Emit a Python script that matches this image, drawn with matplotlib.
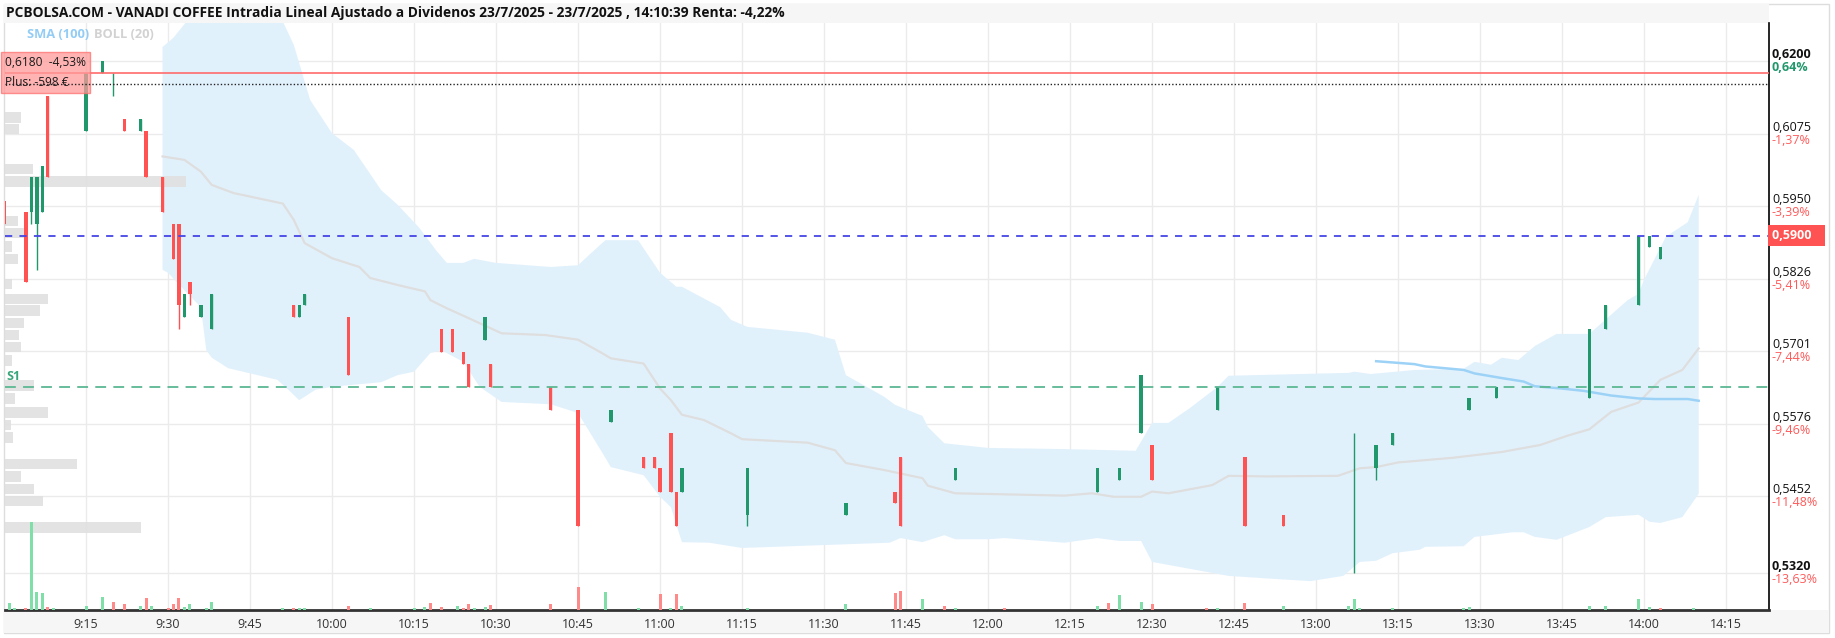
import numpy as np
import matplotlib.pyplot as plt
import matplotlib.transforms as mtransforms
from matplotlib.patches import Rectangle

plt.rcParams['font.family'] = ['Open Sans', 'DejaVu Sans']


def to_min(hhmm):
    # minutes since 9:00
    h, m = hhmm.split(":")
    return (int(h) - 9) * 60 + int(m)


# 1-minute candles
candle_time = ["09:00", "09:04", "09:05", "09:06", "09:07", "09:08", "09:15", "09:18", "09:20", "09:22",
               "09:25", "09:26", "09:29", "09:31", "09:32", "09:33", "09:34", "09:36", "09:38", "09:53",
               "09:54", "09:55", "10:03", "10:20", "10:22", "10:24", "10:25", "10:28", "10:29", "10:40",
               "10:45", "10:51", "10:57", "10:59", "11:00", "11:02", "11:03", "11:04", "11:16", "11:34",
               "11:43", "11:44", "11:54", "12:20", "12:24", "12:28", "12:30", "12:42", "12:47", "12:54",
               "13:07", "13:11", "13:14", "13:28", "13:33", "13:50", "13:53", "13:59", "14:01", "14:03"]
candle_open = [0.5960, 0.5940, 0.5940, 0.5920, 0.5940, 0.6140, 0.6080, 0.6180, 0.6160, 0.6100,
               0.6080, 0.6080, 0.6000, 0.5920, 0.5920, 0.5760, 0.5820, 0.5760, 0.5740, 0.5780,
               0.5760, 0.5780, 0.5760, 0.5740, 0.5740, 0.5700, 0.5680, 0.5720, 0.5680, 0.5640,
               0.5600, 0.5580, 0.5520, 0.5520, 0.5500, 0.5560, 0.5460, 0.5460, 0.5420, 0.5420,
               0.5460, 0.5520, 0.5480, 0.5460, 0.5480, 0.5560, 0.5540, 0.5600, 0.5520, 0.5420,
               0.5440, 0.5500, 0.5540, 0.5600, 0.5620, 0.5620, 0.5740, 0.5780, 0.5880, 0.5860]
candle_high = [0.5960, 0.5940, 0.6000, 0.6000, 0.6020, 0.6140, 0.6180, 0.6200, 0.6180, 0.6100,
               0.6100, 0.6080, 0.6000, 0.5920, 0.5920, 0.5800, 0.5820, 0.5780, 0.5800, 0.5780,
               0.5780, 0.5800, 0.5760, 0.5740, 0.5740, 0.5700, 0.5680, 0.5760, 0.5680, 0.5640,
               0.5600, 0.5600, 0.5520, 0.5520, 0.5500, 0.5560, 0.5460, 0.5500, 0.5500, 0.5440,
               0.5460, 0.5520, 0.5500, 0.5500, 0.5500, 0.5660, 0.5540, 0.5640, 0.5520, 0.5420,
               0.5560, 0.5540, 0.5560, 0.5620, 0.5640, 0.5740, 0.5780, 0.5900, 0.5900, 0.5880]
candle_low = [0.5920, 0.5820, 0.5920, 0.5840, 0.5940, 0.6000, 0.6080, 0.6180, 0.6140, 0.6080,
              0.6080, 0.6000, 0.5940, 0.5860, 0.5740, 0.5760, 0.5780, 0.5760, 0.5740, 0.5760,
              0.5760, 0.5780, 0.5660, 0.5700, 0.5700, 0.5680, 0.5640, 0.5720, 0.5640, 0.5600,
              0.5400, 0.5580, 0.5500, 0.5500, 0.5460, 0.5460, 0.5400, 0.5460, 0.5400, 0.5420,
              0.5440, 0.5400, 0.5480, 0.5460, 0.5480, 0.5560, 0.5480, 0.5600, 0.5400, 0.5400,
              0.5320, 0.5480, 0.5540, 0.5600, 0.5620, 0.5620, 0.5740, 0.5780, 0.5880, 0.5860]
candle_close = [0.5920, 0.5820, 0.6000, 0.6000, 0.6020, 0.6000, 0.6180, 0.6200, 0.6160, 0.6080,
                0.6100, 0.6000, 0.5940, 0.5860, 0.5780, 0.5800, 0.5800, 0.5780, 0.5800, 0.5760,
                0.5780, 0.5800, 0.5660, 0.5700, 0.5700, 0.5680, 0.5640, 0.5760, 0.5640, 0.5600,
                0.5400, 0.5600, 0.5500, 0.5500, 0.5460, 0.5460, 0.5400, 0.5500, 0.5500, 0.5440,
                0.5440, 0.5400, 0.5500, 0.5500, 0.5500, 0.5660, 0.5480, 0.5640, 0.5400, 0.5400,
                0.5440, 0.5540, 0.5560, 0.5620, 0.5640, 0.5740, 0.5780, 0.5900, 0.5900, 0.5880]

# volume per minute (shares) and direction (1 up, 0 down)
vol_time = ["09:01", "09:02", "09:04", "09:05", "09:06", "09:07", "09:08", "09:09", "09:15", "09:18",
            "09:20", "09:22", "09:25", "09:26", "09:27", "09:30", "09:31", "09:32", "09:33", "09:34",
            "09:37", "09:38", "09:51", "09:53", "09:54", "09:55", "10:03", "10:07", "10:15", "10:17",
            "10:18", "10:20", "10:23", "10:24", "10:25", "10:26", "10:28", "10:29", "10:40", "10:45",
            "10:50", "10:56", "11:00", "11:02", "11:03", "11:04", "11:16", "11:34", "11:43", "11:44",
            "11:48", "11:52", "11:54", "12:03", "12:20", "12:22", "12:24", "12:28", "12:30", "12:40",
            "12:42", "12:47", "12:54", "13:06", "13:07", "13:08", "13:14", "13:27", "13:28", "13:50",
            "13:53", "13:59", "14:01", "14:03", "14:09"]
vol_value = [670, 230, 230, 8830, 1830, 1670, 330, 230, 430, 1330,
             830, 570, 430, 1230, 430, 230, 570, 1230, 330, 570,
             230, 830, 170, 200, 200, 200, 430, 170, 200, 330,
             700, 330, 430, 230, 600, 200, 330, 470, 570, 2330,
             1830, 200, 1570, 200, 1570, 430, 200, 570, 1670, 1930,
             1070, 430, 200, 230, 430, 670, 1500, 830, 570, 200,
             230, 670, 430, 400, 1070, 200, 200, 200, 330, 430,
             430, 1070, 330, 200, 200]
vol_up = [1, 1, 0, 1, 1, 1, 0, 1, 1, 1,
          0, 0, 1, 0, 1, 0, 0, 0, 1, 1,
          1, 1, 1, 0, 1, 1, 0, 1, 1, 1,
          0, 0, 1, 0, 0, 1, 1, 0, 0, 0,
          1, 1, 0, 1, 0, 1, 1, 1, 0, 0,
          1, 0, 1, 0, 1, 0, 1, 1, 0, 0,
          1, 0, 1, 1, 1, 1, 1, 1, 1, 1,
          1, 1, 1, 0, 1]

# volume at price profile
profile_price = [0.6103, 0.6083, 0.6014, 0.5993, 0.5925, 0.5904, 0.5881, 0.5860, 0.5817, 0.5791,
                 0.5771, 0.5750, 0.5729, 0.5708, 0.5685, 0.5642, 0.5620, 0.5596, 0.5574, 0.5553,
                 0.5507, 0.5486, 0.5464, 0.5444, 0.5398]
profile_volume = [1600, 1400, 2770, 18100, 1330, 2300, 700, 1270, 730, 4270,
                  3500, 1900, 1400, 1600, 730, 2930, 1000, 4330, 600, 800,
                  7170, 1600, 2900, 3830, 13600]

# BOLL (20)
boll_up_time = ["09:29", "09:31", "09:34", "09:40", "09:46", "09:51", "09:53", "09:56", "10:00", "10:04",
                "10:09", "10:12", "10:16", "10:19", "10:21", "10:24", "10:26", "10:30", "10:40", "10:45",
                "10:48", "10:50", "10:56", "11:00", "11:03", "11:04", "11:11", "11:13", "11:16", "11:27",
                "11:32", "11:34", "11:41", "11:43", "11:48", "11:49", "11:52", "12:00", "12:14", "12:23",
                "12:27", "12:30", "12:33", "12:37", "12:42", "12:44", "12:57", "13:06", "13:07", "13:10",
                "13:18", "13:27", "13:29", "13:32", "13:34", "13:37", "13:40", "13:44", "13:50", "13:57",
                "13:59", "14:00", "14:04", "14:08", "14:10"]
boll_up = [0.6224, 0.6240, 0.6275, 0.6290, 0.6290, 0.6268, 0.6228, 0.6133, 0.6076, 0.6047,
           0.5978, 0.5953, 0.5913, 0.5875, 0.5853, 0.5853, 0.5860, 0.5853, 0.5846, 0.5849,
           0.5875, 0.5892, 0.5892, 0.5836, 0.5812, 0.5812, 0.5777, 0.5755, 0.5743, 0.5733,
           0.5721, 0.5660, 0.5623, 0.5609, 0.5590, 0.5571, 0.5543, 0.5535, 0.5533, 0.5531,
           0.5530, 0.5578, 0.5578, 0.5604, 0.5640, 0.5659, 0.5662, 0.5664, 0.5666, 0.5662,
           0.5669, 0.5671, 0.5683, 0.5678, 0.5690, 0.5686, 0.5710, 0.5731, 0.5731, 0.5789,
           0.5800, 0.5824, 0.5898, 0.5923, 0.5970]
boll_low_time = ["09:29", "09:30", "09:33", "09:36", "09:37", "09:38", "09:41", "09:50", "09:52", "09:54",
                 "09:55", "09:57", "10:00", "10:09", "10:12", "10:15", "10:18", "10:20", "10:24", "10:27",
                 "10:31", "10:40", "10:45", "10:50", "10:51", "10:57", "11:00", "11:02", "11:04", "11:09",
                 "11:15", "11:42", "11:44", "11:48", "11:52", "11:54", "12:00", "12:03", "12:14", "12:20",
                 "12:24", "12:28", "12:30", "12:44", "12:52", "12:59", "13:05", "13:08", "13:11", "13:14",
                 "13:19", "13:20", "13:27", "13:29", "13:36", "13:38", "13:40", "13:44", "13:50", "13:53",
                 "13:59", "14:01", "14:03", "14:07", "14:10"]
boll_low = [0.5841, 0.5836, 0.5806, 0.5777, 0.5703, 0.5690, 0.5672, 0.5652, 0.5635, 0.5617,
            0.5623, 0.5635, 0.5640, 0.5648, 0.5660, 0.5666, 0.5698, 0.5703, 0.5683, 0.5640,
            0.5614, 0.5610, 0.5595, 0.5518, 0.5502, 0.5488, 0.5451, 0.5433, 0.5373, 0.5372,
            0.5363, 0.5372, 0.5380, 0.5373, 0.5385, 0.5378, 0.5378, 0.5380, 0.5372, 0.5380,
            0.5375, 0.5375, 0.5339, 0.5315, 0.5310, 0.5306, 0.5315, 0.5339, 0.5341, 0.5354,
            0.5360, 0.5365, 0.5366, 0.5382, 0.5390, 0.5390, 0.5382, 0.5377, 0.5399, 0.5416,
            0.5420, 0.5408, 0.5406, 0.5416, 0.5456]
boll_mid_time = ["09:29", "09:33", "09:36", "09:38", "09:42", "09:51", "09:53", "09:55", "10:00", "10:05",
                 "10:07", "10:12", "10:17", "10:18", "10:21", "10:25", "10:31", "10:39", "10:45", "10:49",
                 "10:51", "10:57", "11:00", "11:02", "11:04", "11:08", "11:13", "11:15", "11:27", "11:32",
                 "11:34", "11:41", "11:44", "11:48", "11:49", "11:54", "12:14", "12:19", "12:23", "12:28",
                 "12:30", "12:33", "12:41", "12:44", "12:51", "13:04", "13:08", "13:11", "13:15", "13:25",
                 "13:34", "13:41", "13:46", "13:50", "13:54", "13:59", "14:03", "14:07", "14:10"]
boll_mid = [0.6036, 0.6030, 0.6010, 0.5987, 0.5973, 0.5955, 0.5927, 0.5887, 0.5861, 0.5846,
            0.5827, 0.5815, 0.5804, 0.5789, 0.5775, 0.5758, 0.5732, 0.5729, 0.5721, 0.5700,
            0.5689, 0.5680, 0.5637, 0.5617, 0.5592, 0.5583, 0.5560, 0.5550, 0.5544, 0.5531,
            0.5509, 0.5497, 0.5491, 0.5483, 0.5470, 0.5457, 0.5453, 0.5457, 0.5451, 0.5451,
            0.5460, 0.5457, 0.5471, 0.5487, 0.5486, 0.5487, 0.5500, 0.5502, 0.5510, 0.5518,
            0.5528, 0.5540, 0.5556, 0.5567, 0.5597, 0.5613, 0.5652, 0.5669, 0.5706]

# SMA (100)
sma_time = ["13:11", "13:18", "13:20", "13:27", "13:29", "13:34", "13:38", "13:40", "13:45", "13:49",
            "13:54", "13:59", "14:02", "14:08", "14:10"]
sma_value = [0.5684, 0.5679, 0.5675, 0.5669, 0.5663, 0.5655, 0.5649, 0.5641, 0.5637, 0.5633,
             0.5625, 0.5620, 0.5619, 0.5619, 0.5616]

# levels
entry_price = 0.6180
prev_close = 0.6161
last_price = 0.5900
s1_price = 0.5640

# axis labels
y_ticks = [0.6200, 0.6075, 0.5950, 0.5826, 0.5701, 0.5576, 0.5452, 0.5320]
y_price_labels = ["0,6200", "0,6075", "0,5950", "0,5826", "0,5701", "0,5576", "0,5452", "0,5320"]
y_pct_labels = ["0,64%", "-1,37%", "-3,39%", "-5,41%", "-7,44%", "-9,46%", "-11,48%", "-13,63%"]
x_tick_labels = ["9:15", "9:30", "9:45", "10:00", "10:15", "10:30", "10:45", "11:00", "11:15", "11:30",
                 "11:45", "12:00", "12:15", "12:30", "12:45", "13:00", "13:15", "13:30", "13:45", "14:00",
                 "14:15"]

title = ("PCBOLSA.COM - VANADI COFFEE Intradia Lineal Ajustado a Dividenos 23/7/2025 - 23/7/2025 , "
         "14:10:39 Renta: -4,22%")

GREEN = "#21986c"
RED = "#ff5252"

W, H = 1835, 638
fig = plt.figure(figsize=(W / 100, H / 100), dpi=100)

# frame, header band and time band (behind the axes)
fig.patches.append(Rectangle((4 / W, 1 - 633 / H), 1825 / W, 629 / H, transform=fig.transFigure,
                             fc="white", ec="#dddddd", lw=1, zorder=-3))
fig.patches.append(Rectangle((4 / W, 1 - 23 / H), 1765 / W, 19 / H, transform=fig.transFigure,
                             fc="#f6f6f6", ec="none", zorder=-2))
fig.patches.append(Rectangle((4 / W, 1 - 633 / H), 1825 / W, 23 / H, transform=fig.transFigure,
                             fc="#f6f6f6", ec="none", zorder=-2))

ax = fig.add_axes([5 / W, 1 - 610 / H, 1764 / W, 587 / H])
ax.patch.set_visible(False)
ax.set_xlim(0.18, 322.86)
ax.set_ylim(0.52564, 0.62653)

# bollinger band
up_x = [to_min(t) for t in boll_up_time]
lo_x = [to_min(t) for t in boll_low_time]
ax.fill(up_x + lo_x[::-1], boll_up + boll_low[::-1], color="#e1f1fc", lw=0, zorder=1)
ax.plot([to_min(t) for t in boll_mid_time], boll_mid, color="#dedede", lw=1.6, zorder=2)
ax.plot([to_min(t) for t in sma_time], sma_value, color="#9dd2f7", lw=1.8, zorder=2)

# volume profile (left) and volume bars (bottom)
prof_tr = mtransforms.blended_transform_factory(ax.transAxes, ax.transData)
PROFILE_FULL = 176400
ax.barh(profile_price, [v / PROFILE_FULL for v in profile_volume], height=0.0018, left=0,
        color="#e0e0e0", alpha=0.9, lw=0, transform=prof_tr, zorder=2.5)

vol_tr = mtransforms.blended_transform_factory(ax.transData, ax.transAxes)
VOL_FULL = 58700
ax.bar([to_min(t) for t in vol_time], [v / VOL_FULL for v in vol_value], width=0.55, bottom=0,
       color=["#80dfa9" if u else "#ff8a8a" for u in vol_up], lw=0, transform=vol_tr, zorder=3)

# candles
cx = np.array([to_min(t) for t in candle_time], dtype=float)
o = np.array(candle_open)
c = np.array(candle_close)
cols = [GREEN if cc >= oo else RED for oo, cc in zip(o, c)]
ax.vlines(cx, candle_low, candle_high, colors=cols, lw=1, zorder=4)
ax.bar(cx, np.abs(c - o), bottom=np.minimum(o, c), width=0.62, color=cols, lw=0, zorder=4)

# levels
ax.axhline(entry_price, color="#ff6b6b", lw=1.2, zorder=5)
ax.axhline(prev_close, color="#222222", lw=1, ls=(0, (1, 1.5)), zorder=6)
ax.axhline(last_price, color="#4545e6", lw=1.3, ls=(0, (4, 4)), zorder=5)
ax.axhline(s1_price, color="#5cb893", lw=1.3, ls=(0, (6, 4)), zorder=5)
ax.text(0.0005, s1_price + 0.0006, "S1", transform=prof_tr, color="#3aa57a", fontsize=9,
        fontweight="bold", ha="left", va="bottom", zorder=6)

# position box
ax.text(0.0, entry_price, "0,6180  -4,53%\nPlus: -598 €", transform=prof_tr, fontsize=8.6,
        ha="left", va="center", linespacing=1.75, color="#1a1a1a", zorder=5.5,
        bbox=dict(boxstyle="square,pad=0.32", fc="#ff9a9a", ec="#ff7070", alpha=0.75))

# grid and axes
ax.set_xticks([to_min(t) for t in x_tick_labels])
ax.set_xticklabels(x_tick_labels)
ax.set_yticks(y_ticks)
ax.grid(True, color="#ebebeb", lw=1)
ax.set_axisbelow(True)
ax.tick_params(axis="x", length=0, pad=6, labelsize=9, labelcolor="#333333")
ax.tick_params(axis="y", length=0, labelleft=False, labelright=False)
for s in ["left", "top"]:
    ax.spines[s].set_visible(False)
ax.spines["right"].set_color("black")
ax.spines["right"].set_linewidth(1.2)
ax.spines["bottom"].set_color("#333333")
ax.spines["bottom"].set_linewidth(2)

# right price labels
lab_tr = mtransforms.blended_transform_factory(ax.transAxes, ax.transData)
for i, (yv, pl, pc) in enumerate(zip(y_ticks, y_price_labels, y_pct_labels)):
    bold = "bold" if i in (0, len(y_ticks) - 1) else "normal"
    ax.text(1.0017, yv, pl, transform=lab_tr, fontsize=9, fontweight=bold, color="#111111",
            ha="left", va="bottom", clip_on=False)
    ax.text(1.0017, yv, pc, transform=lab_tr, fontsize=9,
            color=GREEN if not pc.startswith("-") else "#ff5a5a",
            fontweight="bold" if not pc.startswith("-") else "normal",
            ha="left", va="top", clip_on=False)
ax.text(1.0017, last_price, "0,5900   ", transform=lab_tr, fontsize=9, fontweight="bold", color="white",
        ha="left", va="center", clip_on=False, zorder=7,
        bbox=dict(boxstyle="square,pad=0.3", fc="#ff5252", ec="none"))

# header texts
fig.text(6 / W, 1 - 12.5 / H, title, fontsize=9.95, fontweight="bold", color="#111111", ha="left", va="center")
fig.text(27 / W, 1 - 35 / H, "SMA (100)", fontsize=9.3, fontweight="bold", color="#93cdf5", ha="left", va="center")
fig.text(94 / W, 1 - 35 / H, "BOLL (20)", fontsize=9.3, fontweight="bold", color="#d2d2d2", ha="left", va="center")

fig.savefig("out.png", dpi=100)
